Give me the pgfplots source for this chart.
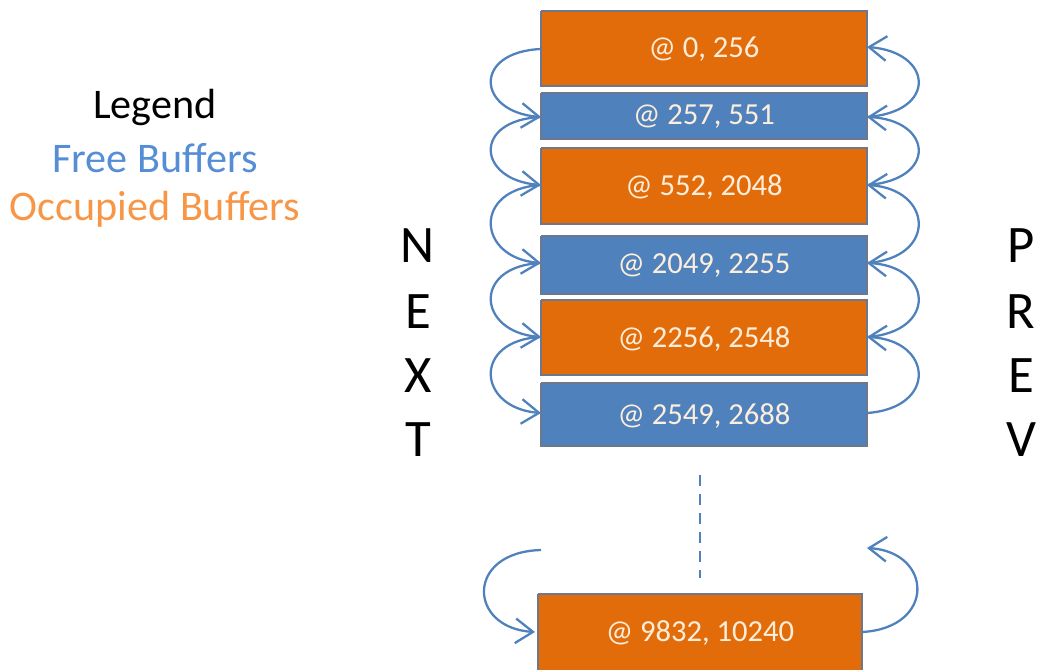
\documentclass[border=0pt]{standalone}
\usepackage{pgfplots}
\pgfplotsset{compat=1.18}
\usepackage{fontspec}
\setmainfont{Carlito}
\usetikzlibrary{arrows.meta}
\definecolor{occ}{RGB}{227,108,10}
\definecolor{free}{RGB}{79,129,189}
\definecolor{edge}{RGB}{110,120,140}
\definecolor{lfree}{RGB}{85,142,213}
\definecolor{locc}{RGB}{247,150,70}
\definecolor{txt}{RGB}{253,238,220}
\begin{document}
\begin{tikzpicture}[every node/.append style={inner sep=0pt, outer sep=0pt}]
\begin{axis}[
  scale only axis, width=10.39cm, height=6.69cm,
  xmin=0, xmax=1039, ymin=0, ymax=669, y dir=reverse,
  hide axis, clip=false,
]
% boxes
\addplot[fill=occ, draw=edge, line width=0.4pt] coordinates {(541,11) (867,11) (867,86) (541,86) (541,11)};
\addplot[fill=free, draw=edge, line width=0.4pt] coordinates {(541,93) (867,93) (867,139) (541,139) (541,93)};
\addplot[fill=occ, draw=edge, line width=0.4pt] coordinates {(541,148) (867,148) (867,224) (541,224) (541,148)};
\addplot[fill=free, draw=edge, line width=0.4pt] coordinates {(541,236) (867,236) (867,294) (541,294) (541,236)};
\addplot[fill=occ, draw=edge, line width=0.4pt] coordinates {(541,300) (867,300) (867,375) (541,375) (541,300)};
\addplot[fill=free, draw=edge, line width=0.4pt] coordinates {(541,383) (867,383) (867,446) (541,446) (541,383)};
\addplot[fill=occ, draw=edge, line width=0.4pt] coordinates {(538,594) (862,594) (862,672) (538,672) (538,594)};
% dashed line
\addplot[free, line width=0.8pt, dash pattern=on 3.2pt off 2.2pt] coordinates {(700,475) (700,578)};
% box labels
\begin{scope}[every node/.style={text=txt, font=\fontsize{8.7}{10}\selectfont}]
\node at (axis cs:704,49) {@ 0, 256};
\node at (axis cs:704,117) {@ 257, 551};
\node at (axis cs:704,187) {@ 552, 2048};
\node at (axis cs:704,266) {@ 2049, 2255};
\node at (axis cs:704,339) {@ 2256, 2548};
\node at (axis cs:704,416) {@ 2549, 2688};
\node at (axis cs:700,633) {@ 9832, 10240};
\end{scope}
% arrows
\begin{scope}[free, line width=0.65pt, arr/.style={-{Straight Barb[length=5pt,width=7pt]}}]
\draw[arr] (axis cs:541,49) .. controls (axis cs:472,52) and (axis cs:477,112) .. (axis cs:541,117);
\draw[arr] (axis cs:541,117) .. controls (axis cs:472,120) and (axis cs:477,180) .. (axis cs:541,185);
\draw[arr] (axis cs:541,185) .. controls (axis cs:472,189) and (axis cs:477,258) .. (axis cs:541,263);
\draw[arr] (axis cs:541,263) .. controls (axis cs:472,266) and (axis cs:477,332) .. (axis cs:541,337);
\draw[arr] (axis cs:541,337) .. controls (axis cs:472,340) and (axis cs:477,408) .. (axis cs:541,413);
\draw[arr] (axis cs:867,117) .. controls (axis cs:938,112) and (axis cs:933,52) .. (axis cs:867,47);
\draw[arr] (axis cs:867,185) .. controls (axis cs:938,180) and (axis cs:933,120) .. (axis cs:867,117);
\draw[arr] (axis cs:867,263) .. controls (axis cs:938,258) and (axis cs:933,189) .. (axis cs:867,185);
\draw[arr] (axis cs:867,337) .. controls (axis cs:938,332) and (axis cs:933,266) .. (axis cs:867,263);
\draw[arr] (axis cs:867,413) .. controls (axis cs:938,408) and (axis cs:933,340) .. (axis cs:867,337);
\draw[arr] (axis cs:541,550) .. controls (axis cs:465,552) and (axis cs:468,628) .. (axis cs:535,632);
\draw[arr] (axis cs:862,632) .. controls (axis cs:936,628) and (axis cs:933,552) .. (axis cs:867,548);
\end{scope}
% NEXT / PREV
\begin{scope}[every node/.style={font=\fontsize{15}{18}\selectfont}]
\node at (axis cs:418,246) {N};
\node at (axis cs:418,312) {E};
\node at (axis cs:418,376) {X};
\node at (axis cs:418,440) {T};
\node at (axis cs:1021,246) {P};
\node at (axis cs:1021,312) {R};
\node at (axis cs:1021,376) {E};
\node at (axis cs:1021,440) {V};
\end{scope}
% legend
\begin{scope}[every node/.style={font=\fontsize{12}{14}\selectfont}]
\node at (axis cs:155,107) {Legend};
\node[text=lfree] at (axis cs:155,158) {Free Buffers};
\node[text=locc] at (axis cs:155,209) {Occupied Buffers};
\end{scope}
\end{axis}
\pgfresetboundingbox
\path[use as bounding box] (current axis.south west) rectangle (current axis.north east);
\end{tikzpicture}
\end{document}
